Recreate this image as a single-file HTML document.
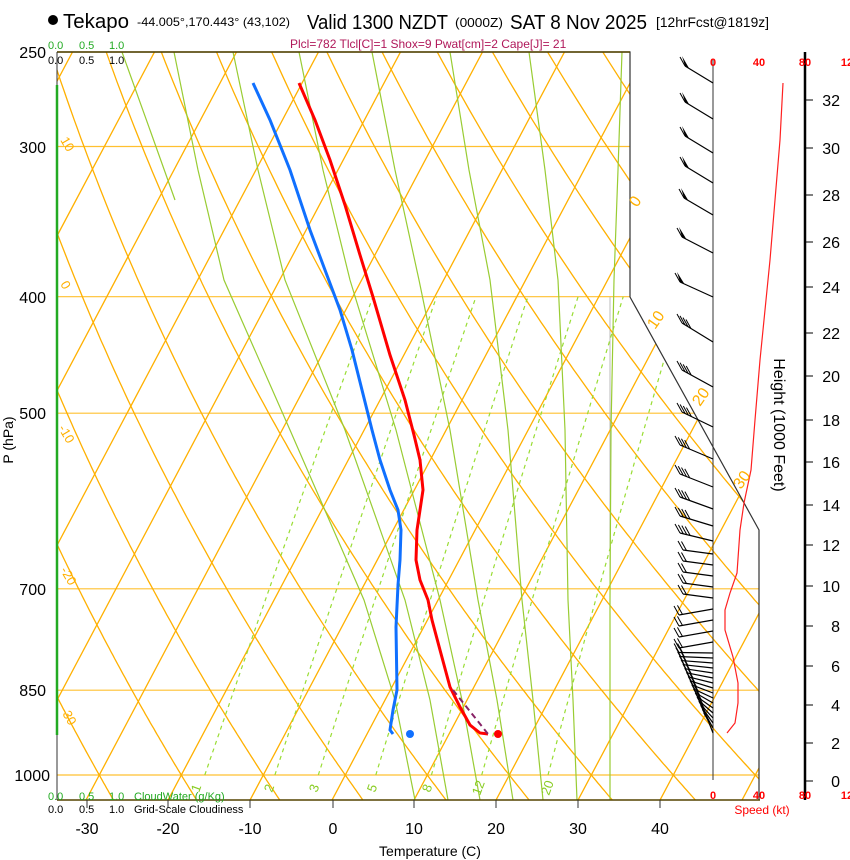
<!DOCTYPE html>
<html><head><meta charset="utf-8"><style>
body{margin:0;background:#fff;width:850px;height:860px;overflow:hidden}
svg{display:block;font-family:"Liberation Sans",sans-serif}
</style></head><body>
<svg id="s" width="850" height="860" viewBox="0 0 850 860" xmlns="http://www.w3.org/2000/svg">
<defs><clipPath id="c"><polygon points="57,52 630,52 630,297 759,530 759,800 57,800"/></clipPath></defs>
<g id="grid" clip-path="url(#c)"></g>
<g id="fg"></g>
<circle cx="53" cy="20" r="5" fill="#000"/>
<text x="63" y="28" font-size="20" textLength="66" lengthAdjust="spacingAndGlyphs">Tekapo</text>
<text x="137" y="26" font-size="12" textLength="153" lengthAdjust="spacingAndGlyphs">-44.005°,170.443° (43,102)</text>
<text x="307" y="29" font-size="20" textLength="141" lengthAdjust="spacingAndGlyphs">Valid 1300 NZDT</text>
<text x="455" y="27" font-size="13" textLength="48" lengthAdjust="spacingAndGlyphs">(0000Z)</text>
<text x="510" y="29" font-size="20" textLength="137" lengthAdjust="spacingAndGlyphs">SAT 8 Nov 2025</text>
<text x="656" y="27" font-size="14" textLength="113" lengthAdjust="spacingAndGlyphs">[12hrFcst@1819z]</text>
<text x="290" y="48" font-size="12" fill="#b0185a">Plcl=782 Tlcl[C]=1 Shox=9 Pwat[cm]=2 Cape[J]= 21</text>
<g font-size="11" fill="#22aa22"><text x="48" y="49">0.0</text><text x="79" y="49">0.5</text><text x="109" y="49">1.0</text>
<text x="48" y="800">0.0</text><text x="79" y="800">0.5</text><text x="109" y="800">1.0</text><text x="134" y="800">CloudWater (g/Kg)</text></g>
<g font-size="11" fill="#000"><text x="48" y="64">0.0</text><text x="79" y="64">0.5</text><text x="109" y="64">1.0</text>
<text x="48" y="813">0.0</text><text x="79" y="813">0.5</text><text x="109" y="813">1.0</text><text x="134" y="813">Grid-Scale Cloudiness</text></g>
<g font-size="16" text-anchor="end"><text x="46" y="58">250</text><text x="46" y="153">300</text><text x="46" y="303">400</text><text x="46" y="419">500</text><text x="46" y="595">700</text><text x="46" y="696">850</text><text x="50" y="781">1000</text></g>
<text transform="translate(13,440) rotate(-90)" font-size="14" text-anchor="middle">P (hPa)</text>
<g font-size="16" text-anchor="middle"><text x="87" y="834">-30</text><text x="168" y="834">-20</text><text x="250" y="834">-10</text><text x="333" y="834">0</text><text x="414" y="834">10</text><text x="496" y="834">20</text><text x="578" y="834">30</text><text x="660" y="834">40</text></g>
<text x="430" y="856" font-size="14" text-anchor="middle">Temperature (C)</text>
<g font-size="11" fill="#f00" font-weight="bold" text-anchor="middle"><text x="713" y="66">0</text><text x="759" y="66">40</text><text x="805" y="66">80</text><text x="847" y="66">12</text>
<text x="713" y="799">0</text><text x="759" y="799">40</text><text x="805" y="799">80</text><text x="847" y="799">12</text></g>
<text x="762" y="814" font-size="12" fill="#f00" text-anchor="middle">Speed (kt)</text>
<text transform="translate(774,425) rotate(90)" font-size="16" text-anchor="middle">Height (1000 Feet)</text>
<g font-size="16" fill="#ffb000"><text transform="translate(637,208) rotate(-55)">0</text><text transform="translate(655,330) rotate(-55)">10</text><text transform="translate(700,407) rotate(-55)">20</text><text transform="translate(741,490) rotate(-55)">30</text></g>
<g font-size="13" fill="#ffb000"><text transform="translate(60,140) rotate(60)">10</text><text transform="translate(60,284) rotate(60)">0</text><text transform="translate(58,428) rotate(60)">-10</text><text transform="translate(60,570) rotate(60)">-20</text><text transform="translate(60,710) rotate(60)">-30</text></g>
<g font-size="13" fill="#88cc22"><text transform="translate(199,793) rotate(-70)">1</text><text transform="translate(272,793) rotate(-70)">2</text><text transform="translate(317,793) rotate(-70)">3</text><text transform="translate(375,793) rotate(-70)">5</text><text transform="translate(430,793) rotate(-70)">8</text><text transform="translate(480,796) rotate(-70)">12</text><text transform="translate(549,796) rotate(-70)">20</text></g>
</svg>
<script>
var NS="http://www.w3.org/2000/svg",G=document.getElementById('grid'),F=document.getElementById('fg');
function el(p,t,a){var e=document.createElementNS(NS,t);for(var k in a)e.setAttribute(k,a[k]);p.appendChild(e);return e;}
function Y(p){return 775-522*Math.log(1000/p);}
function X(T,p){return 332+8.2*T+0.53*(800-Y(p));}
function poly(g,pts,st,w,da){var d=pts.map(function(q,i){return (i?'L':'M')+q[0].toFixed(1)+' '+q[1].toFixed(1)}).join('');var a={d:d,fill:'none',stroke:st,'stroke-width':w};if(da)a['stroke-dasharray']=da;el(g,'path',a);}
var ps=[];for(var p=1050;p>=249;p-=5)ps.push(p);
[300,400,500,700,850,1000].forEach(function(p){el(G,'line',{x1:57,x2:760,y1:Y(p),y2:Y(p),stroke:'#ffc030','stroke-width':1.2});});
el(G,'line',{x1:610,x2:610,y1:297,y2:800,stroke:'#bbb','stroke-width':1});
for(var T=-150;T<=50;T+=10){poly(G,[[X(T,1050),Y(1050)],[X(T,250),Y(250)]],'#ffb000',1.3);}
for(var th=-60;th<=200;th+=10){var pts=ps.map(function(p){return [X((th+273.15)*Math.pow(p/1000,0.286)-273.15,p),Y(p)]});poly(G,pts,'#ffb000',1.3);}
[1,2,3,5,8,12,20].forEach(function(w){w/=1000;var pts=[];for(var p=1000;p>=400;p-=10){var e=w*p/(0.622+w),l=Math.log(e/6.112),T=243.5*l/(17.67-l);pts.push([X(T,p),Y(p)]);}poly(G,pts,'#99dd33',1.2,'4,4');});
// moist adiabats (empirical)
var ml=[[[122,52],[150,130],[175,200]],
[[174,52],[198,170],[224,280],[290,430],[364,600],[395,700],[415,800]],
[[233,52],[258,170],[285,280],[345,430],[405,600],[430,700],[448,800]],
[[299,52],[323,170],[350,280],[396,430],[440,600],[462,700],[480,800]],
[[372,52],[395,170],[419,280],[450,430],[478,600],[497,700],[513,800]],
[[450,52],[469,170],[490,280],[508,430],[522,600],[533,700],[543,800]],
[[529,52],[545,170],[558,280],[565,430],[568,600],[573,700],[577,800]],
[[622,52],[618,170],[614,280],[611,430],[610,600],[610,800]]];
ml.forEach(function(l){poly(G,l,'#99cc33',1.2);});
poly(F,[[57,52],[630,52],[630,297],[759,530],[759,800]],'#333',1.2);
el(F,'line',{x1:57,x2:630,y1:52,y2:52,stroke:'#554400','stroke-width':1.5});
el(F,'line',{x1:57,x2:760,y1:800,y2:800,stroke:'#554400','stroke-width':1.5});
el(F,'line',{x1:57,x2:57,y1:52,y2:800,stroke:'#333','stroke-width':1});
el(F,'line',{x1:57,x2:57,y1:85,y2:735,stroke:'#22aa22','stroke-width':2.5});
[87,168,250,333,414,496,578,660].forEach(function(x){el(F,'line',{x1:x,x2:x,y1:800,y2:808,stroke:'#333'});});
el(F,'line',{x1:713,x2:713,y1:60,y2:780,stroke:'#333','stroke-width':1});
el(F,'line',{x1:805,x2:805,y1:52,y2:800,stroke:'#000','stroke-width':2.5});
var hy=[781,743,705,666,626,586,545,505,462,420,376,333,287,242,195,148,100];
hy.forEach(function(y,i){el(F,'line',{x1:805,x2:813,y1:y,y2:y,stroke:'#000'});var t=el(F,'text',{x:840,y:y+6,'font-size':16,'text-anchor':'end'});t.textContent=i*2;});
var tp=[[299,83],[315,120],[330,160],[345,205],[360,255],[373,297],[390,355],[405,400],[414,435],[420,460],[423,490],[420,510],[417,530],[416,560],[420,580],[428,600],[432,620],[440,650],[450,687],[460,707],[470,725],[480,733],[488,734]];
poly(F,tp,'#ff0000',3);
var dp2=[[253,83],[270,120],[290,170],[310,230],[325,270],[340,310],[352,350],[362,390],[372,430],[380,460],[390,490],[398,510],[401,530],[400,560],[398,585],[396,627],[397,690],[393,710],[390,730],[393,734]];
poly(F,dp2,'#1070ff',3);
poly(F,[[453,690],[488,734]],'#882266',2,'6,4');
el(F,'circle',{cx:498,cy:734,r:4,fill:'#f00'});el(F,'circle',{cx:410,cy:734,r:4,fill:'#1070ff'});
poly(F,[[783,83],[780,140],[775,200],[770,260],[766,300],[760,360],[755,420],[751,470],[744,503],[740,530],[737,573],[730,593],[725,610],[725,630],[733,657],[738,683],[738,703],[735,723],[727,733]],'#ff2020',1.2);
function barb(y,ex,ey,flag,nf){el(F,'line',{x1:713,y1:y,x2:ex,y2:ey,stroke:'#000','stroke-width':1.2});
var dx=(713-ex),dy=(y-ey),L=Math.hypot(dx,dy),ux=dx/L,uy=dy/L;
if(flag){el(F,'polygon',{points:ex+','+ey+' '+(ex+ux*5)+','+(ey+uy*5)+' '+(ex-3)+','+(ey-10),fill:'#000'});}
for(var i=0;i<nf;i++){var bx=ex+ux*i*3.5,by=ey+uy*i*3.5;el(F,'line',{x1:bx,y1:by,x2:bx-5,y2:by-9,stroke:'#000','stroke-width':1});}}
[[83,-28,-17],[119,-28,-17],[153,-28,-17],[183,-28,-17],[215,-29,-17],[253,-31,-16],[297,-33,-15]].forEach(function(b){barb(b[0],713+b[1],b[0]+b[2],true,1);});
[[342,682,323],[387,682,370],[427,682,412],[459,680,445],[487,680,474],[509,680,497],[526,680,516],[541,680,533]].forEach(function(b){barb(b[0],b[1],b[2],false,4);});
for(var y=554;y<=735;y+=(y<650?11:5)){var ex,ey;if(y<=600){ex=683;ey=y-4;}else if(y<=650){ex=679;ey=y+6;}else{var t=(y-650)/85;ex=678+t*30;ey=650+t*70;}barb(y,ex,ey,false,2);}
</script>
</body></html>
